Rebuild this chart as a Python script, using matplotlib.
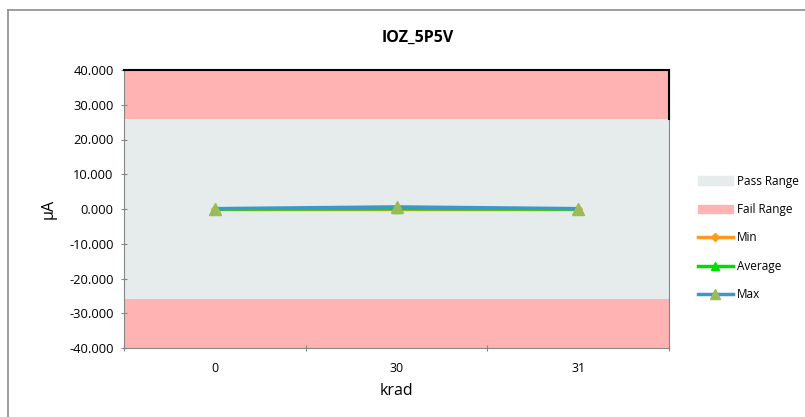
import numpy as np
import matplotlib.pyplot as plt
from matplotlib.lines import Line2D
from matplotlib.patches import Patch

plt.rcParams['font.family'] = ['Open Sans', 'DejaVu Sans']

# data
categories = ['0', '30', '31']
min_vals = [-0.1, -0.1, -0.1]
avg_vals = [0.0, 0.1, 0.0]
max_vals = [0.1, 0.6, 0.1]
pass_lo, pass_hi = -26, 26
y_lo, y_hi = -40, 40

fig = plt.figure(figsize=(8.05, 4.17), dpi=100)
ax = fig.add_axes([124/805, 1-348/417, (669-124)/805, (348-70)/417])

x = np.arange(len(categories))
xl = (-0.5, len(categories) - 0.5)

# ranges
ax.fill_between(xl, pass_lo, pass_hi, color='#E5ECEB', lw=0)
ax.fill_between(xl, pass_hi, y_hi, color='#FFB3B3', lw=0)
ax.fill_between(xl, y_lo, pass_lo, color='#FFB3B3', lw=0)
ax.plot([xl[1], xl[1]], [pass_hi, y_hi], color='black', lw=1.5, clip_on=False, zorder=5)

ax.plot(x, min_vals, color='#FF9A1A', lw=2.5, marker='D', ms=4, zorder=3)
ax.plot(x, avg_vals, color='#00DD00', lw=2.5, marker='^', ms=6, zorder=4)
ax.plot(x, max_vals, color='#3D97CF', lw=2.5, marker='^', ms=9,
        mfc='#9BBB59', mec='#9BBB59', zorder=5)

ax.set_xlim(*xl)
ax.set_ylim(y_lo, y_hi)
ax.set_yticks(np.arange(-40, 41, 10))
ax.set_yticklabels(['%.3f' % v for v in np.arange(-40, 41, 10)], fontsize=9.3)
ax.set_xticks(np.arange(-0.5, len(categories), 1.0))
ax.set_xticklabels([])
ax.set_xticks(x, minor=True)
ax.set_xticklabels(categories, minor=True, fontsize=9)
ax.tick_params(axis='x', which='minor', length=0, pad=10)
ax.tick_params(axis='y', pad=5)
ax.tick_params(axis='both', which='major', length=5, color='#868686', direction='inout')

for s in ['left', 'bottom', 'right']:
    ax.spines[s].set_color('#868686')
ax.spines['top'].set_color('black')
ax.spines['top'].set_linewidth(1.5)

fig.text(418/805, 1-38/417, 'IOZ_5P5V', fontsize=11.5, fontweight='bold',
         ha='center', va='center')
ax.set_ylabel('μA', fontsize=11.5, labelpad=9)
ax.set_xlabel('krad', fontsize=11.5, labelpad=6)

handles = [
    Patch(color='#E5ECEB', label='Pass Range'),
    Patch(color='#FFB3B3', label='Fail Range'),
    Line2D([], [], color='#FF9A1A', lw=2.5, marker='D', ms=4, label='Min'),
    Line2D([], [], color='#00DD00', lw=2.5, marker='^', ms=6, label='Average'),
    Line2D([], [], color='#3D97CF', lw=2.5, marker='^', ms=7, mfc='#9BBB59',
           mec='#9BBB59', label='Max'),
]
fig.legend(handles=handles, loc='upper left', bbox_to_anchor=(687/805, 1-164/417),
           frameon=False, fontsize=8.5, handlelength=3.0, labelspacing=1.3,
           handletextpad=0.3)

# outer border
fig.add_artist(Line2D([8/805, 1], [1-10/417, 1-10/417], color='#8C8C8C', lw=1.2))
fig.add_artist(Line2D([8/805, 8/805], [0, 1-10/417], color='#8C8C8C', lw=1.2))

fig.savefig('out.png', dpi=100)
